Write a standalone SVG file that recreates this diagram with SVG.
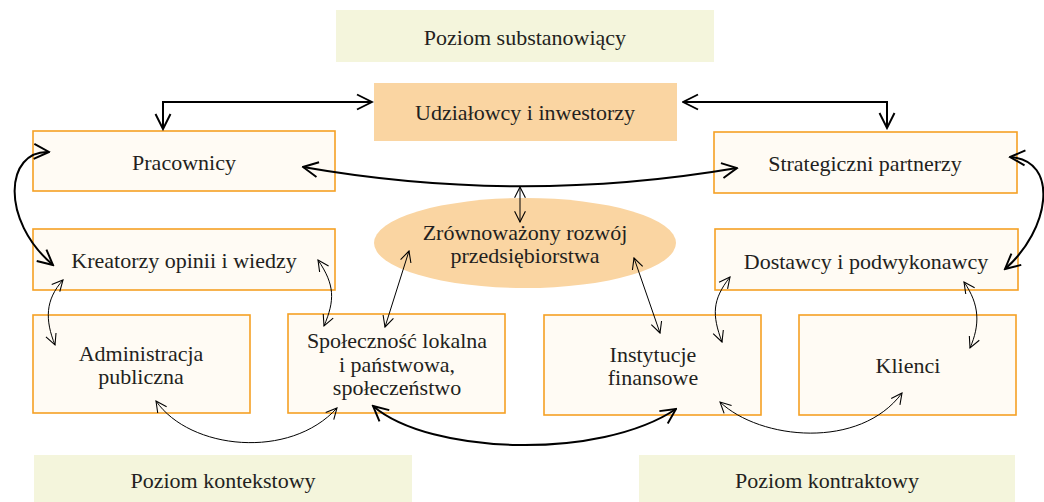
<svg xmlns="http://www.w3.org/2000/svg" width="1044" height="502" viewBox="0 0 1044 502">
<style>
.box{fill:#fffbf4;stroke:#f5a124;stroke-width:1.6}
.lvl{fill:#f4f5dc}
.top{fill:#fad5a2}
.t{font-family:"Liberation Serif","Times New Roman",serif;font-size:22px;fill:#231f20;text-anchor:middle}
.thick{fill:none;stroke:#000;stroke-width:2}
.thin{fill:none;stroke:#000;stroke-width:1}
</style>
<defs>
<marker id="at" viewBox="0 0 12 12" refX="11" refY="6" markerWidth="13" markerHeight="13" orient="auto-start-reverse" markerUnits="userSpaceOnUse">
<path d="M1,1 L11,6 L1,11" fill="none" stroke="#000" stroke-width="1"/>
</marker>
<marker id="aT" viewBox="0 0 12 12" refX="11" refY="6" markerWidth="18" markerHeight="18" orient="auto-start-reverse" markerUnits="userSpaceOnUse">
<path d="M1,1 L11,6 L1,11" fill="none" stroke="#000" stroke-width="1.3"/>
</marker>
</defs>
<g id="level-substanowiacy"><rect class="lvl" x="336" y="10" width="378" height="52"/><text class="t" x="525" y="45">Poziom substanowiący</text></g>
<g id="udzialowcy"><rect class="top" x="374" y="83" width="303" height="58"/><text class="t" x="525" y="120">Udziałowcy i inwestorzy</text></g>
<g id="pracownicy"><rect class="box" x="33" y="131" width="302" height="60"/><text class="t" x="184" y="170">Pracownicy</text></g>
<g id="strategiczni"><rect class="box" x="714" y="132" width="303" height="61"/><text class="t" x="865" y="171">Strategiczni partnerzy</text></g>
<g id="kreatorzy"><rect class="box" x="33" y="229" width="302" height="61"/><text class="t" x="184" y="268">Kreatorzy opinii i wiedzy</text></g>
<g id="dostawcy"><rect class="box" x="715" y="229" width="303" height="61"/><text class="t" x="866" y="269">Dostawcy i podwykonawcy</text></g>
<g id="rozwoj"><ellipse cx="525" cy="243" rx="151" ry="45" fill="#fad5a2"/><text class="t" x="525" y="240">Zrównoważony rozwój</text><text class="t" x="525" y="263">przedsiębiorstwa</text></g>
<g id="administracja"><rect class="box" x="33" y="315" width="217" height="98"/><text class="t" x="141" y="361">Administracja</text><text class="t" x="141" y="384">publiczna</text></g>
<g id="spolecznosc"><rect class="box" x="288" y="314" width="217" height="99"/><text class="t" x="397" y="348">Społeczność lokalna</text><text class="t" x="397" y="372">i państwowa,</text><text class="t" x="397" y="395">społeczeństwo</text></g>
<g id="instytucje"><rect class="box" x="544" y="315" width="217" height="100"/><text class="t" x="653" y="362">Instytucje</text><text class="t" x="653" y="385">finansowe</text></g>
<g id="klienci"><rect class="box" x="799" y="315" width="217" height="100"/><text class="t" x="908" y="373">Klienci</text></g>
<g id="level-kontekstowy"><rect class="lvl" x="34" y="455" width="378" height="47"/><text class="t" x="223" y="488">Poziom kontekstowy</text></g>
<g id="level-kontraktowy"><rect class="lvl" x="639" y="455" width="376" height="47"/><text class="t" x="827" y="488">Poziom kontraktowy</text></g>
<g id="connectors">
<path class="thick" d="M163,129 V102 H372" marker-start="url(#aT)" marker-end="url(#aT)"/>
<path class="thick" d="M683,102 H887 V128" marker-start="url(#aT)" marker-end="url(#aT)"/>
<path class="thick" d="M303,167 Q520,205 737,168" marker-start="url(#aT)" marker-end="url(#aT)"/>
<path class="thick" d="M49,152 C5,150 0,220 53,265" marker-start="url(#aT)" marker-end="url(#aT)"/>
<path class="thick" d="M1010,157 C1060,160 1050,230 1005,269" marker-start="url(#aT)" marker-end="url(#aT)"/>
<path class="thick" d="M373,406 C430,455 600,460 676,409" marker-start="url(#aT)" marker-end="url(#aT)"/>
<path class="thin" d="M520,187 V222" marker-start="url(#at)" marker-end="url(#at)"/>
<path class="thin" d="M63,280 C45,300 45,320 55,345" marker-start="url(#at)" marker-end="url(#at)"/>
<path class="thin" d="M318,260 C335,285 335,300 324,326" marker-start="url(#at)" marker-end="url(#at)"/>
<path class="thin" d="M409,251 L385,327" marker-start="url(#at)" marker-end="url(#at)"/>
<path class="thin" d="M634,258 L660,333" marker-start="url(#at)" marker-end="url(#at)"/>
<path class="thin" d="M730,277 C712,300 712,315 722,342" marker-start="url(#at)" marker-end="url(#at)"/>
<path class="thin" d="M964,282 C980,305 980,325 970,348" marker-start="url(#at)" marker-end="url(#at)"/>
<path class="thin" d="M156,401 C190,450 290,460 337,408" marker-start="url(#at)" marker-end="url(#at)"/>
<path class="thin" d="M720,402 C760,440 860,450 902,393" marker-start="url(#at)" marker-end="url(#at)"/>
</g>
</svg>
